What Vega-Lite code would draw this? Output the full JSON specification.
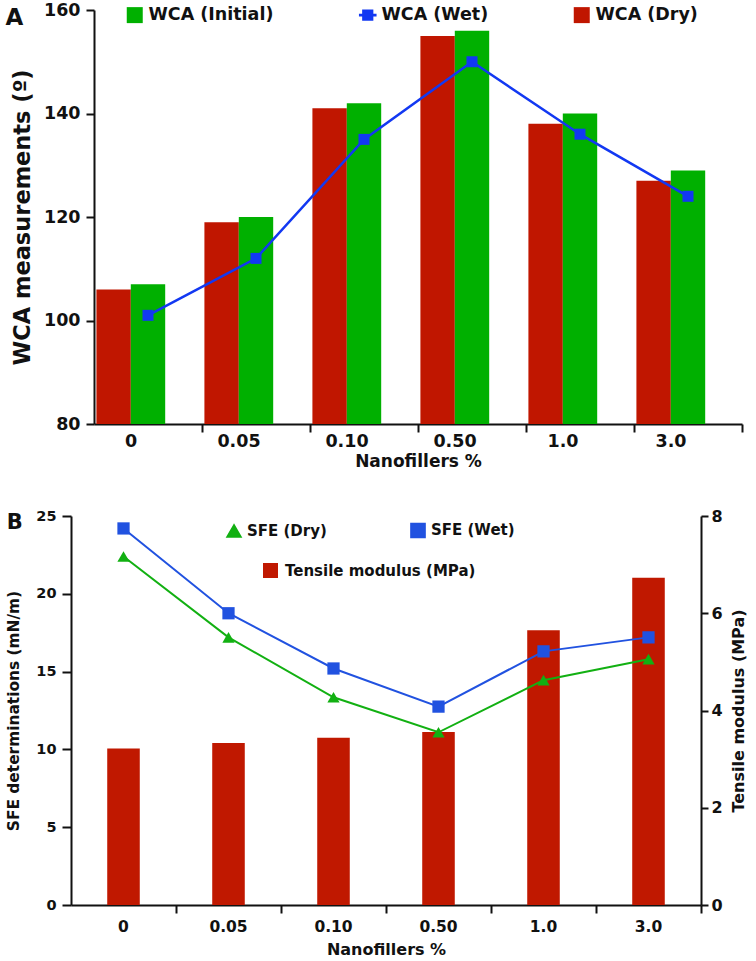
{
  "$schema": "https://vega.github.io/schema/vega-lite/v6.json",
  "padding": {"left": 5, "top": 1, "right": 2, "bottom": 0},
  "background": "white",
  "spacing": 38,
  "resolve": {
    "scale": {"color": "independent", "shape": "independent", "fill": "independent"},
    "legend": {"color": "independent", "shape": "independent", "fill": "independent"}
  },
  "config": {
    "font": "DejaVu Sans",
    "view": {"stroke": null},
    "axis": {
      "labelFont": "DejaVu Sans", "labelFontWeight": "bold", "labelColor": "#111",
      "titleFont": "DejaVu Sans", "titleFontWeight": "bold", "titleColor": "#111",
      "domainColor": "#111", "domainWidth": 2, "tickColor": "#111", "tickWidth": 2, "grid": false
    },
    "legend": {"labelFont": "DejaVu Sans", "labelFontWeight": "bold", "labelColor": "#111", "labelLimit": 400}
  },
  "datasets": {
    "wca_bars": [
      {"nf": "0", "series": "WCA (Dry)", "wca": 106},
      {"nf": "0", "series": "WCA (Initial)", "wca": 107},
      {"nf": "0.05", "series": "WCA (Dry)", "wca": 119},
      {"nf": "0.05", "series": "WCA (Initial)", "wca": 120},
      {"nf": "0.10", "series": "WCA (Dry)", "wca": 141},
      {"nf": "0.10", "series": "WCA (Initial)", "wca": 142},
      {"nf": "0.50", "series": "WCA (Dry)", "wca": 155},
      {"nf": "0.50", "series": "WCA (Initial)", "wca": 156},
      {"nf": "1.0", "series": "WCA (Dry)", "wca": 138},
      {"nf": "1.0", "series": "WCA (Initial)", "wca": 140},
      {"nf": "3.0", "series": "WCA (Dry)", "wca": 127},
      {"nf": "3.0", "series": "WCA (Initial)", "wca": 129}
    ],
    "wca_wet": [
      {"nf": "0", "wca": 101},
      {"nf": "0.05", "wca": 112},
      {"nf": "0.10", "wca": 135},
      {"nf": "0.50", "wca": 150},
      {"nf": "1.0", "wca": 136},
      {"nf": "3.0", "wca": 124}
    ],
    "tensile": [
      {"nf": "0", "m": "Tensile modulus (MPa)", "modulus": 3.22},
      {"nf": "0.05", "m": "Tensile modulus (MPa)", "modulus": 3.33},
      {"nf": "0.10", "m": "Tensile modulus (MPa)", "modulus": 3.44},
      {"nf": "0.50", "m": "Tensile modulus (MPa)", "modulus": 3.56},
      {"nf": "1.0", "m": "Tensile modulus (MPa)", "modulus": 5.65},
      {"nf": "3.0", "m": "Tensile modulus (MPa)", "modulus": 6.73}
    ],
    "sfe": [
      {"nf": "0", "series": "SFE (Dry)", "sfe": 22.4},
      {"nf": "0.05", "series": "SFE (Dry)", "sfe": 17.2},
      {"nf": "0.10", "series": "SFE (Dry)", "sfe": 13.35},
      {"nf": "0.50", "series": "SFE (Dry)", "sfe": 11.1},
      {"nf": "1.0", "series": "SFE (Dry)", "sfe": 14.45},
      {"nf": "3.0", "series": "SFE (Dry)", "sfe": 15.8},
      {"nf": "0", "series": "SFE (Wet)", "sfe": 24.2},
      {"nf": "0.05", "series": "SFE (Wet)", "sfe": 18.75},
      {"nf": "0.10", "series": "SFE (Wet)", "sfe": 15.2},
      {"nf": "0.50", "series": "SFE (Wet)", "sfe": 12.75},
      {"nf": "1.0", "series": "SFE (Wet)", "sfe": 16.3},
      {"nf": "3.0", "series": "SFE (Wet)", "sfe": 17.2}
    ]
  },
  "vconcat": [
    {
      "width": 648,
      "height": 414,
      "title": {"text": "A", "orient": "top", "anchor": "start", "frame": "bounds", "fontSize": 23, "fontWeight": "bold", "font": "DejaVu Sans", "color": "#111", "baseline": "top", "offset": -29, "dx": -6},
      "layer": [
        {
          "data": {"name": "wca_bars"},
          "mark": {"type": "bar"},
          "encoding": {
            "x": {
              "field": "nf", "type": "nominal", "sort": null,
              "scale": {"domain": ["0", "0.05", "0.10", "0.50", "1.0", "3.0"], "paddingInner": 0, "paddingOuter": 0},
              "axis": {"title": "Nanofillers %", "labelAngle": 0, "bandPosition": 1, "labelOffset": -17, "tickSize": 8, "labelPadding": 0, "labelFontSize": 17.5, "titleFontSize": 17, "titlePadding": 4}
            },
            "xOffset": {
              "field": "series", "type": "nominal",
              "scale": {"domain": ["WCA (Dry)", "WCA (Initial)", "~"], "paddingInner": 0, "paddingOuter": 0.07}
            },
            "y": {
              "field": "wca", "type": "quantitative",
              "scale": {"domain": [80, 160], "zero": false, "nice": false},
              "axis": {"values": [80, 100, 120, 140, 160], "title": "WCA measurements (º)", "labelFontSize": 17.5, "titleFontSize": 22.5, "tickSize": 8, "labelPadding": 6, "titlePadding": 9}
            },
            "y2": {"datum": 80},
            "color": {
              "field": "series", "type": "nominal",
              "scale": {"domain": ["WCA (Initial)", "WCA (Wet)", "WCA (Dry)"], "range": ["#00b000", "#1238f2", "#c01600"]},
              "legend": {
                "orient": "none", "legendX": 32, "legendY": -4, "direction": "horizontal", "columns": 3,
                "columnPadding": 84, "gridAlign": "each", "title": null, "symbolType": "square", "symbolSize": 256,
                "labelFontSize": 17.5, "labelOffset": 5, "symbolStrokeWidth": 0,
                "encode": {"symbols": {"update": {"shape": [{"test": "datum.value === 'WCA (Wet)'", "value": "M-1.1,-0.17H1.1V0.17H-1.1Z M-0.7,-0.7H0.7V0.7H-0.7Z"}, {"value": "square"}]}}}
              }
            }
          }
        },
        {
          "data": {"name": "wca_wet"},
          "mark": {"type": "line", "strokeWidth": 2.5, "point": {"shape": "square", "size": 121, "filled": true}},
          "encoding": {
            "x": {
              "field": "nf", "type": "nominal", "sort": null,
              "axis": {"title": "Nanofillers %", "labelAngle": 0, "bandPosition": 1, "labelOffset": -17, "tickSize": 8, "labelPadding": 0, "labelFontSize": 17.5, "titleFontSize": 17, "titlePadding": 4}
            },
            "y": {"field": "wca", "type": "quantitative"},
            "color": {"datum": "WCA (Wet)"}
          }
        }
      ]
    },
    {
      "width": 607,
      "height": 389,
      "title": {"text": "B", "orient": "top", "anchor": "start", "frame": "bounds", "fontSize": 21, "fontWeight": "bold", "font": "DejaVu Sans", "color": "#111", "baseline": "top", "offset": -25, "dx": 0},
      "resolve": {"scale": {"y": "independent"}},
      "layer": [
        {
          "data": {"name": "tensile"},
          "mark": {"type": "bar", "width": {"band": 0.31}},
          "encoding": {
            "x": {
              "field": "nf", "type": "nominal", "sort": null,
              "scale": {"domain": ["0", "0.05", "0.10", "0.50", "1.0", "3.0"], "range": [-23, 607], "paddingInner": 0, "paddingOuter": 0},
              "axis": {"title": "Nanofillers %", "labelAngle": 0, "bandPosition": 1, "tickSize": 8, "labelPadding": 6, "labelFontSize": 15.5, "titleFontSize": 16, "titlePadding": 7}
            },
            "y": {
              "field": "modulus", "type": "quantitative",
              "scale": {"domain": [0, 8], "nice": false},
              "axis": {"orient": "right", "values": [0, 2, 4, 6, 8], "title": "Tensile modulus (MPa)", "titleAngle": 270, "labelFontSize": 16, "titleFontSize": 16, "tickSize": 7, "labelPadding": 3, "titlePadding": 24}
            },
            "fill": {
              "field": "m", "type": "nominal",
              "scale": {"range": ["#c01800"]},
              "legend": {"orient": "none", "legendX": 169, "legendY": 47, "title": null, "symbolType": "square", "symbolSize": 225, "labelFontSize": 15, "labelOffset": 7, "symbolStrokeWidth": 0}
            }
          }
        },
        {
          "data": {"name": "sfe"},
          "mark": {"type": "line", "strokeWidth": 2, "point": {"filled": true, "size": 150}},
          "encoding": {
            "x": {
              "field": "nf", "type": "nominal", "sort": null,
              "axis": {"title": "Nanofillers %", "labelAngle": 0, "bandPosition": 1, "tickSize": 8, "labelPadding": 6, "labelFontSize": 15.5, "titleFontSize": 16, "titlePadding": 7}
            },
            "y": {
              "field": "sfe", "type": "quantitative",
              "scale": {"domain": [0, 25], "nice": false},
              "axis": {"orient": "left", "offset": 23, "values": [0, 5, 10, 15, 20, 25], "title": "SFE determinations (mN/m)", "labelFontSize": 14.5, "titleFontSize": 15.4, "tickSize": 9, "labelPadding": 6, "titlePadding": 14}
            },
            "color": {
              "field": "series", "type": "nominal",
              "scale": {"domain": ["SFE (Dry)", "SFE (Wet)"], "range": ["#12b012", "#2152e0"]},
              "legend": {"orient": "none", "legendX": 132, "legendY": 6, "direction": "horizontal", "columns": 2, "columnPadding": 80, "gridAlign": "each", "title": null, "symbolSize": 200, "labelFontSize": 15, "labelOffset": 5}
            },
            "shape": {
              "field": "series", "type": "nominal",
              "scale": {"domain": ["SFE (Dry)", "SFE (Wet)"], "range": ["triangle-up", "square"]},
              "legend": {"orient": "none", "legendX": 132, "legendY": 6, "direction": "horizontal", "columns": 2, "columnPadding": 80, "gridAlign": "each", "title": null, "symbolSize": 200, "labelFontSize": 15, "labelOffset": 5}
            }
          }
        }
      ]
    }
  ]
}
